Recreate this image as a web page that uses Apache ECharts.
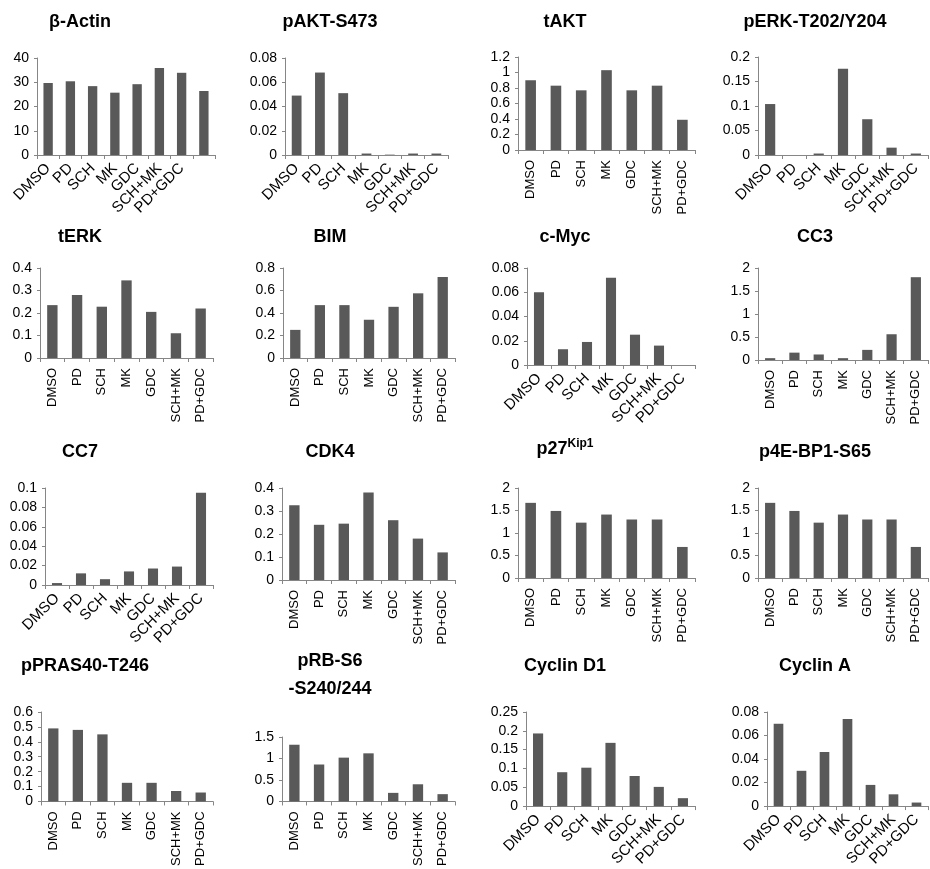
<!DOCTYPE html>
<html>
<head>
<meta charset="utf-8">
<script src="https://cdn.jsdelivr.net/npm/echarts@6/dist/echarts.min.js"></script>
<style>
html,body{margin:0;padding:0;background:#fff;}
#chart{width:930px;height:869px;}
</style>
</head>
<body>
<div id="chart"></div>
<script>
// ---- data ----
const categories = ['DMSO', 'PD', 'SCH', 'MK', 'GDC', 'SCH+MK', 'PD+GDC'];
const actinCategories = ['DMSO', 'PD', 'SCH', 'MK', 'GDC', 'SCH+MK', 'PD+GDC', ''];

const betaActin = [29.7, 30.4, 28.4, 25.7, 29.2, 35.9, 33.9, 26.4];
const pAKT = [0.049, 0.068, 0.051, 0.0012, 0.0003, 0.0012, 0.0012];
const tAKT = [0.9, 0.83, 0.77, 1.03, 0.77, 0.83, 0.39];
const pERK = [0.104, 0, 0.003, 0.176, 0.073, 0.015, 0.003];
const tERK = [0.235, 0.28, 0.228, 0.345, 0.205, 0.11, 0.22];
const BIM = [0.25, 0.47, 0.47, 0.34, 0.455, 0.575, 0.72];
const cMyc = [0.06, 0.013, 0.019, 0.072, 0.025, 0.016, 0];
const CC3 = [0.04, 0.16, 0.12, 0.04, 0.22, 0.56, 1.8];
const CC7 = [0.002, 0.012, 0.006, 0.014, 0.017, 0.019, 0.095];
const CDK4 = [0.325, 0.24, 0.245, 0.38, 0.26, 0.18, 0.12];
const p27 = [1.67, 1.49, 1.23, 1.41, 1.3, 1.3, 0.69];
const p4EBP1 = [1.67, 1.49, 1.23, 1.41, 1.3, 1.3, 0.69];
const pPRAS40 = [0.49, 0.48, 0.45, 0.125, 0.125, 0.07, 0.06];
const pRB = [1.32, 0.86, 1.02, 1.12, 0.2, 0.4, 0.17];
const cyclinD1 = [0.193, 0.09, 0.102, 0.168, 0.08, 0.051, 0.021];
const cyclinA = [0.07, 0.03, 0.046, 0.074, 0.018, 0.01, 0.003];

const titles = ['β-Actin', 'pAKT-S473', 'tAKT', 'pERK-T202/Y204',
  'tERK', 'BIM', 'c-Myc', 'CC3',
  'CC7', 'CDK4', '{a|p27}{b|Kip1}', 'p4E-BP1-S65',
  'pPRAS40-T246', 'pRB-S6\n-S240/244', 'Cyclin D1', 'Cyclin A'];
const seriesData = [betaActin, pAKT, tAKT, pERK, tERK, BIM, cMyc, CC3,
  CC7, CDK4, p27, p4EBP1, pPRAS40, pRB, cyclinD1, cyclinA];
const yMax = [40, 0.08, 1.2, 0.2, 0.4, 0.8, 0.08, 2, 0.1, 0.4, 2, 2, 0.6, 1.5, 0.25, 0.08];
const yInterval = [10, 0.02, 0.2, 0.05, 0.1, 0.2, 0.02, 0.5, 0.02, 0.1, 0.5, 0.5, 0.1, 0.5, 0.05, 0.02];

// ---- layout (positions only) ----
const grids = [
  [37, 58, 178, 97], [285, 58, 163, 97], [518, 57, 177, 93], [758, 57, 170, 98],
  [40, 268, 173, 90], [283, 268, 172, 90], [527, 268, 168, 97], [758, 268, 170, 92],
  [45, 488, 168, 97], [282, 488, 173, 92], [518, 488, 177, 90], [758, 488, 170, 90],
  [41, 712, 172, 91], [282, 737, 173, 66], [526, 712, 169, 96], [767, 712, 161, 96]
];
const titlePos = [
  [80, 8], [330, 8], [565, 8], [815, 8],
  [80, 223], [330, 223], [565, 223], [815, 223],
  [80, 438], [330, 438], [565, 438], [815, 438],
  [85, 652], [330, 647], [565, 652], [815, 652]
];
const rotations = [45, 45, 90, 45, 90, 90, 45, 90, 45, 90, 90, 90, 90, 90, 45, 45];

const axisColor = '#868686';
const barColor = '#595959';
const font = 'Liberation Sans, Arial, sans-serif';

const option = {
  animation: false,
  backgroundColor: '#fff',
  title: titles.map((t, i) => ({
    text: t,
    left: titlePos[i][0],
    top: titlePos[i][1],
    textAlign: 'center',
    padding: 0,
    textStyle: {
      fontFamily: font, fontSize: 18, fontWeight: 'bold', color: '#000', lineHeight: 28,
      rich: {
        a: { fontFamily: font, fontSize: 18, fontWeight: 'bold', color: '#000', lineHeight: 22 },
        b: { fontFamily: font, fontSize: 12, fontWeight: 'bold', color: '#000', lineHeight: 10, verticalAlign: 'top' }
      }
    }
  })),
  grid: grids.map(g => ({ left: g[0], top: g[1], width: g[2], height: g[3], containLabel: false })),
  xAxis: seriesData.map((d, i) => ({
    type: 'category',
    gridIndex: i,
    data: i === 0 ? actinCategories : categories,
    boundaryGap: true,
    axisLine: { show: true, lineStyle: { color: axisColor, width: 1 } },
    axisTick: { show: true, length: 4, lineStyle: { color: axisColor } },
    axisLabel: {
      interval: 0, rotate: rotations[i], margin: rotations[i] === 90 ? 10 : 11,
      fontFamily: font, fontSize: rotations[i] === 90 ? 13 : 15, color: '#000'
    },
    splitLine: { show: false }
  })),
  yAxis: seriesData.map((d, i) => ({
    type: 'value',
    gridIndex: i,
    min: 0, max: yMax[i], interval: yInterval[i],
    axisLine: { show: true, lineStyle: { color: axisColor, width: 1 } },
    axisTick: { show: true, length: 3, lineStyle: { color: axisColor } },
    axisLabel: { fontFamily: font, fontSize: 14, color: '#000', margin: 8 },
    splitLine: { show: false }
  })),
  series: seriesData.map((d, i) => ({
    type: 'bar',
    xAxisIndex: i,
    yAxisIndex: i,
    data: d,
    barWidth: '42%',
    itemStyle: { color: barColor }
  }))
};

const chart = echarts.init(document.getElementById('chart'), null, { renderer: 'canvas' });
chart.setOption(option);
</script>
</body>
</html>
